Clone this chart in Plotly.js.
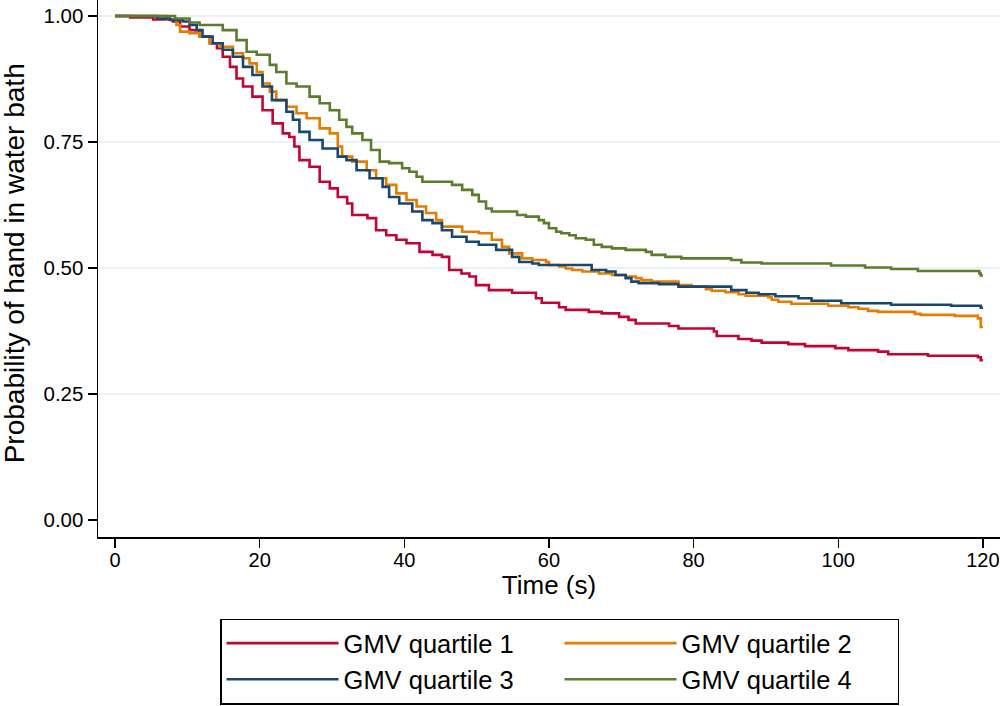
<!DOCTYPE html>
<html>
<head>
<meta charset="utf-8">
<script src="https://cdn.plot.ly/plotly-3.0.1.min.js"></script>
<style>html,body{margin:0;padding:0;background:#fff;}#chart{width:1001px;height:706px;}</style>
</head>
<body>
<div id="chart"></div>
<script>
// Kaplan-Meier survival estimates (time in s, probability of hand in water bath)
const seriesNames = ["GMV quartile 1", "GMV quartile 2", "GMV quartile 3", "GMV quartile 4"];

const q1Time = [0, 2.1, 5.3, 8.0, 9.0, 10.3, 11.7, 13.1, 14.1, 14.9, 15.9, 16.8, 17.7, 19.0, 20.4, 21.8, 23.2, 24.1, 24.8, 25.5, 26.9, 28.3, 29.7, 30.8, 32.1, 32.8, 34.9, 36.1, 37.5, 38.9, 40.3, 42.1, 43.9, 45.2, 46.2, 47.9, 49.0, 49.9, 51.7, 54.9, 58.2, 59.0, 61.4, 62.3, 65.5, 67.3, 69.7, 71.0, 72.0, 76.6, 77.9, 82.8, 83.2, 86.2, 88.0, 89.4, 93.1, 95.4, 99.6, 101.4, 105.5, 106.9, 112.4, 119.3, 119.7, 120];
const q1Surv = [1.000, 0.997, 0.993, 0.989, 0.979, 0.972, 0.959, 0.946, 0.936, 0.919, 0.899, 0.876, 0.860, 0.840, 0.813, 0.787, 0.767, 0.760, 0.741, 0.714, 0.701, 0.671, 0.658, 0.641, 0.628, 0.605, 0.599, 0.575, 0.565, 0.556, 0.549, 0.532, 0.526, 0.522, 0.496, 0.489, 0.483, 0.466, 0.456, 0.451, 0.440, 0.431, 0.422, 0.417, 0.413, 0.410, 0.403, 0.397, 0.390, 0.385, 0.380, 0.374, 0.365, 0.359, 0.356, 0.352, 0.349, 0.345, 0.341, 0.337, 0.334, 0.329, 0.326, 0.323, 0.317, 0.317];

const q2Time = [0, 7.2, 8.5, 9.0, 10.3, 11.7, 13.1, 14.5, 16.3, 17.7, 18.6, 19.6, 20.4, 21.4, 22.3, 23.7, 25.1, 26.5, 28.3, 29.7, 30.8, 31.4, 32.8, 34.8, 36.1, 37.5, 38.9, 40.3, 41.7, 43.0, 44.4, 45.2, 48.0, 50.3, 52.1, 53.5, 54.5, 56.3, 57.7, 59.6, 60.0, 61.4, 62.3, 63.2, 64.6, 66.9, 68.7, 70.6, 72.0, 72.8, 74.2, 77.9, 79.7, 81.7, 82.5, 84.4, 86.2, 87.2, 90.3, 90.8, 91.7, 93.5, 98.6, 101.4, 102.8, 104.1, 105.5, 110.6, 111.4, 116.1, 119.3, 119.7, 120];
const q2Surv = [1.000, 0.993, 0.982, 0.969, 0.966, 0.959, 0.946, 0.939, 0.926, 0.916, 0.906, 0.889, 0.866, 0.850, 0.833, 0.820, 0.807, 0.797, 0.777, 0.767, 0.741, 0.721, 0.711, 0.694, 0.678, 0.665, 0.648, 0.635, 0.622, 0.609, 0.595, 0.582, 0.572, 0.569, 0.556, 0.542, 0.529, 0.519, 0.516, 0.512, 0.506, 0.503, 0.499, 0.496, 0.493, 0.489, 0.486, 0.483, 0.480, 0.476, 0.473, 0.466, 0.463, 0.458, 0.455, 0.452, 0.448, 0.445, 0.442, 0.437, 0.433, 0.429, 0.425, 0.422, 0.419, 0.415, 0.413, 0.409, 0.407, 0.405, 0.400, 0.383, 0.383];

const q3Time = [0, 5.8, 7.6, 9.4, 10.3, 11.3, 12.1, 13.5, 14.9, 16.3, 17.7, 19.0, 20.4, 21.7, 23.7, 24.6, 25.5, 26.9, 28.7, 30.8, 32.0, 33.4, 35.2, 37.0, 37.9, 39.3, 41.1, 42.5, 43.9, 45.2, 46.6, 48.6, 50.3, 52.7, 54.9, 55.9, 57.7, 58.6, 65.9, 67.9, 69.2, 70.6, 71.4, 72.4, 75.2, 77.9, 85.2, 87.3, 89.0, 91.3, 94.5, 96.3, 100.4, 107.3, 115.6, 119.7, 120];
const q3Surv = [1.000, 0.995, 0.992, 0.989, 0.982, 0.972, 0.959, 0.946, 0.933, 0.919, 0.899, 0.883, 0.860, 0.833, 0.810, 0.794, 0.770, 0.754, 0.737, 0.721, 0.714, 0.694, 0.678, 0.661, 0.641, 0.628, 0.612, 0.595, 0.589, 0.575, 0.562, 0.552, 0.546, 0.536, 0.522, 0.512, 0.509, 0.506, 0.496, 0.493, 0.486, 0.480, 0.473, 0.470, 0.468, 0.463, 0.456, 0.451, 0.448, 0.444, 0.440, 0.435, 0.430, 0.427, 0.425, 0.421, 0.421];

const q4Time = [0, 8.3, 10.3, 11.7, 14.9, 16.8, 18.2, 19.6, 21.4, 22.3, 23.7, 25.1, 26.9, 28.3, 29.7, 31.0, 32.0, 32.8, 34.2, 35.4, 36.6, 37.9, 39.7, 40.7, 41.7, 42.5, 46.6, 48.0, 49.4, 50.3, 51.3, 52.1, 55.6, 56.8, 58.6, 59.3, 60.0, 61.0, 61.7, 62.8, 63.7, 65.1, 66.2, 67.3, 68.7, 70.6, 73.4, 74.2, 76.1, 78.3, 85.2, 86.6, 89.4, 99.0, 103.7, 107.3, 111.0, 119.5, 119.7, 120];
const q4Surv = [1.000, 0.995, 0.987, 0.982, 0.972, 0.952, 0.929, 0.923, 0.903, 0.889, 0.866, 0.860, 0.840, 0.827, 0.813, 0.794, 0.780, 0.767, 0.754, 0.734, 0.711, 0.708, 0.698, 0.691, 0.681, 0.671, 0.665, 0.655, 0.645, 0.632, 0.618, 0.612, 0.605, 0.602, 0.595, 0.589, 0.579, 0.572, 0.569, 0.565, 0.559, 0.556, 0.546, 0.542, 0.539, 0.536, 0.532, 0.526, 0.522, 0.519, 0.516, 0.511, 0.509, 0.505, 0.501, 0.498, 0.494, 0.489, 0.485, 0.485];

const xTicks = [0, 20, 40, 60, 80, 100, 120];
const yTicks = [0, 0.25, 0.5, 0.75, 1];
const gridValues = [0.25, 0.5, 0.75, 1];

const colors = ["#C10534", "#E37E00", "#1A476F", "#5B7D2E"];
const times = [q1Time, q2Time, q3Time, q4Time];
const survs = [q1Surv, q2Surv, q3Surv, q4Surv];

const FONT = "Arial, 'Liberation Sans', Helvetica, sans-serif";

const traces = seriesNames.map((name, i) => ({
  type: "scatter",
  mode: "lines",
  name: name,
  x: times[i],
  y: survs[i],
  line: { color: colors[i], width: 2.6, shape: "hv" },
  hoverinfo: "x+y+name"
}));

const shapes = gridValues.map(v => ({
  type: "line", xref: "paper", x0: 0, x1: 1, yref: "y", y0: v, y1: v,
  line: { color: "#E6EEF0", width: 1.6 }, layer: "below"
}));

const layout = {
  width: 1001,
  height: 706,
  margin: { l: 98, r: 1, t: 0, b: 169, pad: 0, autoexpand: false },
  paper_bgcolor: "#ffffff",
  plot_bgcolor: "#ffffff",
  font: { family: FONT, color: "#000000" },
  showlegend: true,
  xaxis: {
    range: [-2.35, 122.36],
    tickvals: xTicks,
    ticktext: xTicks.map(String),
    ticks: "outside", ticklen: 9, tickwidth: 1.3, tickcolor: "#000",
    ticklabeloverflow: "allow",
    ticklabelstandoff: -5,
    showline: true, linecolor: "#000", linewidth: 1.5,
    showgrid: false, zeroline: false,
    tickfont: { size: 20, family: FONT, color: "#000" },
    title: { text: "Time (s)", font: { size: 26, family: FONT, color: "#000" }, standoff: 6 }
  },
  yaxis: {
    range: [-0.0337, 1.0317],
    tickvals: yTicks,
    tickformat: ".2f",
    ticks: "outside", ticklen: 9, tickwidth: 1.3, tickcolor: "#000",
    ticklabeloverflow: "allow",
    showline: true, linecolor: "#000", linewidth: 1.5,
    showgrid: false, zeroline: false,
    tickfont: { size: 20.5, family: FONT, color: "#000" }
  },
  shapes: shapes,
  annotations: [{
    text: "Probability of hand in water bath",
    xref: "paper", yref: "paper",
    x: -0.0928, y: 0.5102, xanchor: "center", yanchor: "middle",
    textangle: -90, showarrow: false,
    font: { size: 28, family: FONT, color: "#000" }
  }],
  legend: {
    orientation: "h",
    x: 0.1353, xanchor: "left",
    y: -0.1518, yanchor: "top",
    bgcolor: "#ffffff",
    bordercolor: "#000", borderwidth: 1.5,
    font: { size: 25.5, family: FONT, color: "#000" },
    entrywidth: 211,
    itemwidth: 112,
    traceorder: "normal"
  }
};

Plotly.newPlot("chart", traces, layout, { staticPlot: true, displayModeBar: false });
</script>
</body>
</html>
